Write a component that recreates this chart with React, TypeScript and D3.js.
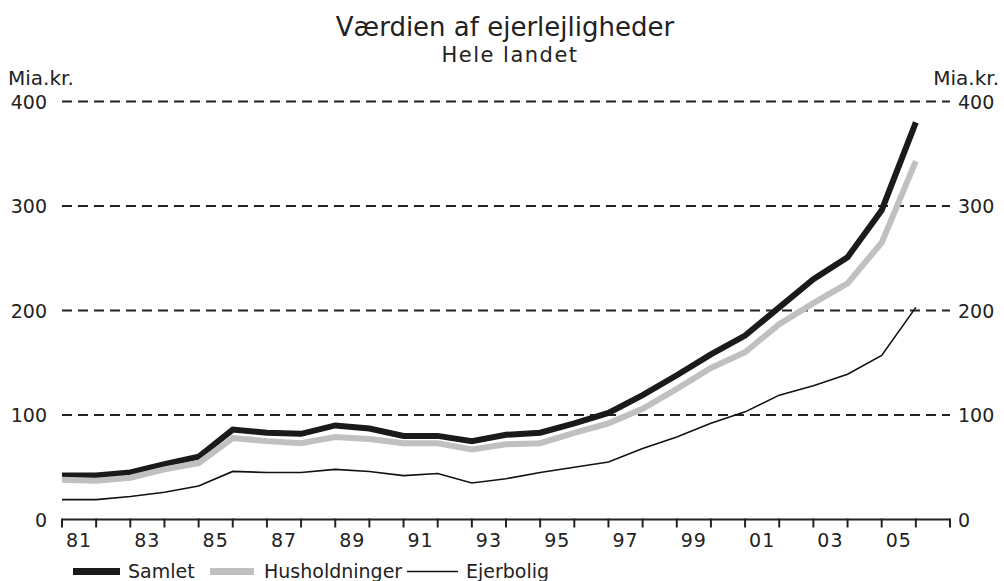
import React from "react";
import * as d3 from "d3";

const years = ["81","82","83","84","85","86","87","88","89","90","91","92","93","94","95","96","97","98","99","00","01","02","03","04","05","06"];
const samlet = [42,42,45,53,60,86,83,82,90,87,80,80,75,81,83,92,102,119,138,158,176,203,230,251,296,380];
const husholdninger = [38,37,40,48,54,78,75,73,79,77,73,73,67,72,73,83,92,106,125,145,160,187,207,226,265,343];
const ejerbolig = [19,19,22,26,32,46,45,45,48,46,42,44,35,39,45,50,55,68,79,92,103,119,128,139,157,203];
const yTicks = [0,100,200,300,400];
const labelYears = ["81","83","85","87","89","91","93","95","97","99","01","03","05"];

const W = 1004, H = 581;
const left = 62, right = 950, top = 101.5, bottom = 519.5;
const FONT = "DejaVu Sans, Verdana, sans-serif";

export default function App() {
  const x = d3.scaleBand<string>().domain(years).range([left, right]).paddingInner(0).paddingOuter(0);
  const y = d3.scaleLinear().domain([0, 400]).range([bottom, top]);
  const line = (vals: number[]) =>
    d3.line<number>().x((_, i) => x(years[i]) as number).y((v) => y(v))(vals) as string;
  const tickXs = [...years.map((c) => x(c) as number), right];

  return (
    <svg width={W} height={H} style={{ position: "absolute", left: 0, top: 0, background: "#fff" }} fontFamily={FONT}>
      <rect width={W} height={H} fill="#fff" />
      <text x={505} y={36} textAnchor="middle" fontSize={26} fill="#222">Værdien af ejerlejligheder</text>
      <text x={510} y={62} textAnchor="middle" fontSize={21} letterSpacing={1.5} fill="#222">Hele landet</text>
      <text x={8} y={85} fontSize={20} fill="#222">Mia.kr.</text>
      <text x={999} y={85} fontSize={20} textAnchor="end" fill="#222">Mia.kr.</text>

      {yTicks.filter((t) => t > 0).map((t) => (
        <line key={t} x1={left} x2={right} y1={y(t)} y2={y(t)} stroke="#222" strokeWidth={2} strokeDasharray="10,6" />
      ))}
      {yTicks.map((t) => (
        <g key={"l" + t}>
          <text x={47} y={y(t) + 7} textAnchor="end" fontSize={19} fill="#222">{t}</text>
          <text x={958} y={y(t) + 7} textAnchor="start" fontSize={19} fill="#222">{t}</text>
        </g>
      ))}

      <line x1={left} x2={right} y1={bottom} y2={bottom} stroke="#222" strokeWidth={2} />
      {tickXs.map((tx, i) => (
        <line key={i} x1={tx} x2={tx} y1={bottom - 1} y2={bottom + 8} stroke="#222" strokeWidth={2} />
      ))}
      {labelYears.map((c) => (
        <text key={c} x={(x(c) as number) + x.bandwidth() / 2} y={547} textAnchor="middle" fontSize={19} letterSpacing={1} fill="#222">{c}</text>
      ))}

      <path d={line(samlet)} fill="none" stroke="#1a1a1a" strokeWidth={6} strokeLinejoin="miter" />
      <path d={line(husholdninger)} fill="none" stroke="#c0c0c0" strokeWidth={6} strokeLinejoin="miter" />
      <path d={line(ejerbolig)} fill="none" stroke="#111" strokeWidth={1.6} />

      <line x1={73} x2={120} y1={571.5} y2={571.5} stroke="#1a1a1a" strokeWidth={7} />
      <text x={128} y={578} fontSize={19} fill="#222">Samlet</text>
      <line x1={210} x2={254} y1={571.5} y2={571.5} stroke="#c0c0c0" strokeWidth={7} />
      <text x={264} y={578} fontSize={19} fill="#222">Husholdninger</text>
      <line x1={407} x2={458} y1={571.5} y2={571.5} stroke="#111" strokeWidth={1.6} />
      <text x={466} y={578} fontSize={19} fill="#222">Ejerbolig</text>
    </svg>
  );
}
